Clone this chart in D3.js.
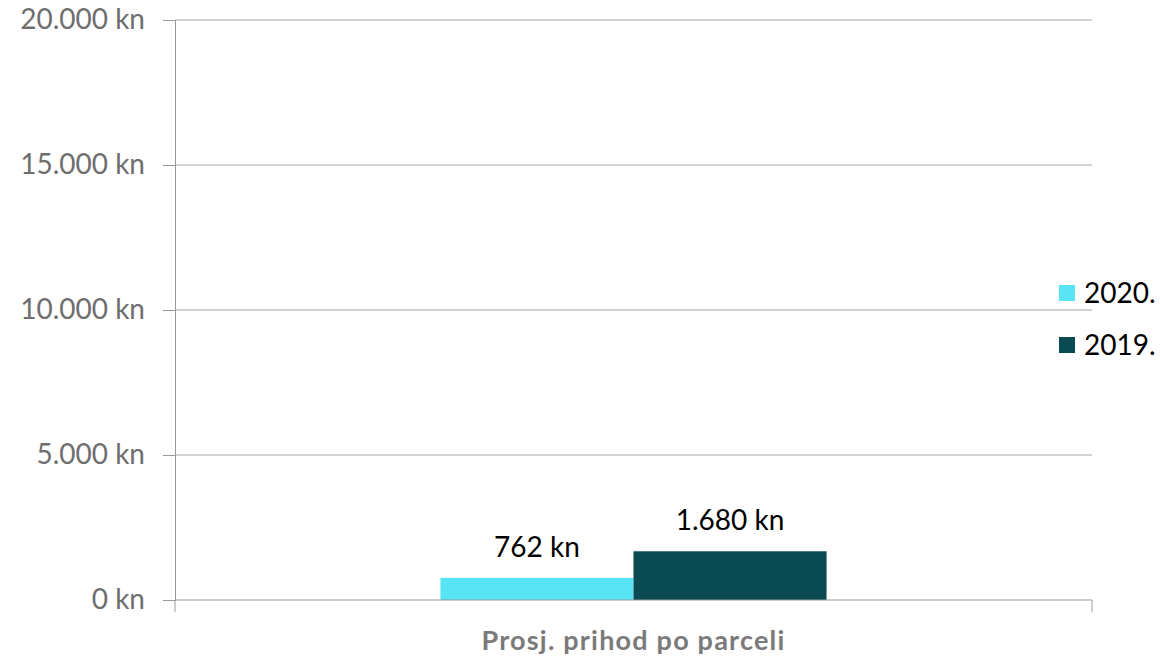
<!DOCTYPE html>
<html>
<head>
<meta charset="utf-8">
<script src="https://cdn.jsdelivr.net/npm/d3@7"></script>
<style>
  body { margin: 0; background: #fff; }
  svg text { font-family: Lato, "Open Sans", sans-serif; }
</style>
</head>
<body>
<div id="chart"></div>
<script>
const categories = ['Prosj. prihod po parceli'];
const seriesNames = ['2020.', '2019.'];
const seriesValues = [[762], [1680]];
const seriesColors = ['#57E4F5', '#0A4A53'];
const yTicks = [0, 5000, 10000, 15000, 20000];

const width = 1160, height = 662;
const margin = { top: 20, right: 68, bottom: 62, left: 175 };

const fmt = d3.formatLocale({ decimal: ',', thousands: '.', grouping: [3], currency: ['', ' kn'] });
const kn = v => fmt.format(',')(v) + ' kn';

const svg = d3.select('#chart').append('svg')
  .attr('width', width)
  .attr('height', height);

const x = d3.scaleBand()
  .domain(categories)
  .range([margin.left, width - margin.right]);

const y = d3.scaleLinear()
  .domain([0, 20000])
  .range([height - margin.bottom, margin.top]);

const xs = d3.scaleBand()
  .domain(seriesNames)
  .range([0, x.bandwidth()])
  .paddingOuter(1.375)
  .paddingInner(0);

// gridlines
svg.append('g')
  .selectAll('line')
  .data(yTicks.slice(1))
  .join('line')
  .attr('x1', margin.left)
  .attr('x2', width - margin.right)
  .attr('y1', d => y(d))
  .attr('y2', d => y(d))
  .attr('stroke', '#a6a6a6')
  .attr('stroke-width', 1);

// y axis
const yAxis = svg.append('g')
  .attr('transform', `translate(${margin.left},0)`)
  .call(d3.axisLeft(y).tickValues(yTicks).tickSize(12).tickPadding(18).tickFormat(kn));
yAxis.selectAll('path, line').attr('stroke', '#999');
yAxis.selectAll('text')
  .attr('fill', '#6e6e6e')
  .style('font-size', '28px');

// bars
svg.append('g')
  .selectAll('rect')
  .data(seriesNames.map((s, i) => ({ s, v: seriesValues[i][0], c: seriesColors[i] })))
  .join('rect')
  .attr('x', d => x(categories[0]) + xs(d.s))
  .attr('width', xs.bandwidth())
  .attr('y', d => y(d.v))
  .attr('height', d => y(0) - y(d.v))
  .attr('fill', d => d.c);

// data labels
svg.append('g')
  .selectAll('text')
  .data(seriesNames.map((s, i) => ({ s, v: seriesValues[i][0] })))
  .join('text')
  .attr('x', d => x(categories[0]) + xs(d.s) + xs.bandwidth() / 2)
  .attr('y', d => y(d.v) - 21)
  .attr('text-anchor', 'middle')
  .attr('fill', '#000')
  .style('font-size', '28px')
  .text(d => kn(d.v));

// x axis
const xAxis = svg.append('g')
  .attr('transform', `translate(0,${y(0)})`);
xAxis.append('line')
  .attr('x1', margin.left).attr('x2', width - margin.right)
  .attr('stroke', '#999');
xAxis.selectAll('line.tick')
  .data([margin.left, width - margin.right])
  .join('line')
  .attr('class', 'tick')
  .attr('x1', d => d).attr('x2', d => d)
  .attr('y1', 0).attr('y2', 12)
  .attr('stroke', '#999');
xAxis.append('text')
  .attr('x', x(categories[0]) + x.bandwidth() / 2)
  .attr('y', 50)
  .attr('text-anchor', 'middle')
  .attr('fill', '#7a7a7a')
  .style('font-size', '27px')
  .style('font-weight', 'bold')
  .style('letter-spacing', '1.2px')
  .text(categories[0]);

// legend
const legend = svg.append('g')
  .attr('transform', 'translate(1059,285)');
const items = legend.selectAll('g')
  .data(seriesNames)
  .join('g')
  .attr('transform', (d, i) => `translate(0,${i * 52})`);
items.append('rect')
  .attr('width', 16).attr('height', 16)
  .attr('fill', (d, i) => seriesColors[i]);
items.append('text')
  .attr('x', 25)
  .attr('y', 8)
  .attr('dy', '0.35em')
  .attr('fill', '#000')
  .style('font-size', '28px')
  .text(d => d);
</script>
</body>
</html>
